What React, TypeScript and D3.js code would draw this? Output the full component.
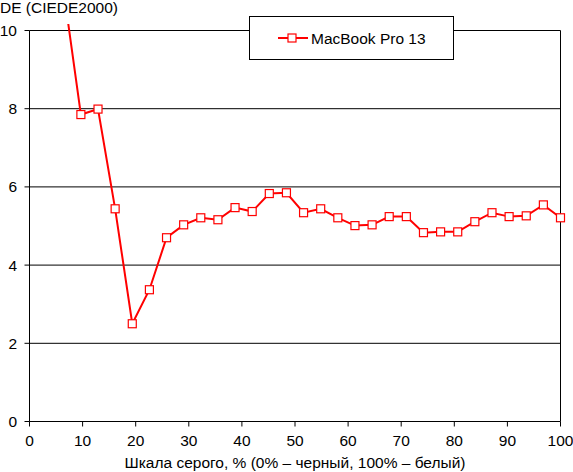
import React from "react";
import * as d3 from "d3";

const steps: number[] = [2, 3, 4, 5, 6, 7, 8, 9, 10, 11, 12, 13, 14, 15, 16, 17, 18, 19, 20, 21, 22, 23, 24, 25, 26, 27, 28, 29, 30, 31];
const deValues: number[] = [11.0, 7.85, 7.99, 5.44, 2.5, 3.37, 4.7, 5.03, 5.21, 5.16, 5.47, 5.37, 5.83, 5.85, 5.34, 5.44, 5.21, 5.01, 5.03, 5.24, 5.24, 4.83, 4.85, 4.85, 5.11, 5.34, 5.24, 5.26, 5.54, 5.21];
const xTicks: number[] = [0, 10, 20, 30, 40, 50, 60, 70, 80, 90, 100];
const yTicks: number[] = [0, 2, 4, 6, 8, 10];
const seriesName = "MacBook Pro 13";
const yTitle = "DE (CIEDE2000)";
const xTitle = "Шкала серого, % (0% – черный, 100% – белый)";

export default function App() {
  const W = 573, H = 472;
  const x = d3.scaleLinear().domain([0, 100]).range([29.5, 560.5]);
  const y = d3.scaleLinear().domain([0, 10]).range([421.5, 30.5]);
  const data = steps.map((s, i) => ({ g: (s / 31) * 100, v: deValues[i] }));
  const line = d3.line<{ g: number; v: number }>().x(d => x(d.g)).y(d => y(d.v));
  const font = "'Liberation Sans', Arial, sans-serif";
  const red = "#ff0000";
  const fs = 15.5;
  const visible = data.filter(d => d.v <= 10);
  return (
    <svg width={W} height={H} style={{ position: "absolute", left: 0, top: 0, background: "#fff" }} fontFamily={font}>
      <defs>
        <clipPath id="plotclip">
          <rect x={29} y={24} width={533} height={400} />
        </clipPath>
      </defs>
      <rect x={0} y={0} width={W} height={H} fill="#fff" />
      {yTicks.filter(t => t > 0).map(t => (
        <line key={"g" + t} x1={x(0)} x2={x(100)} y1={y(t)} y2={y(t)} stroke="#000" strokeWidth={1} />
      ))}
      <line x1={x(0)} x2={x(0)} y1={y(10)} y2={y(0)} stroke="#000" />
      <line x1={x(100)} x2={x(100)} y1={y(10)} y2={y(0)} stroke="#000" />
      <line x1={x(0)} x2={x(100)} y1={y(0)} y2={y(0)} stroke="#000" />
      {yTicks.map(t => (
        <g key={"yt" + t}>
          <line x1={x(0) - 5} x2={x(0)} y1={y(t)} y2={y(t)} stroke="#000" />
          <text x={17} y={y(t) + 5.5} textAnchor="end" fontSize={fs} fill="#000">{t}</text>
        </g>
      ))}
      {xTicks.map(t => (
        <g key={"xt" + t}>
          <line x1={x(t)} x2={x(t)} y1={y(0)} y2={y(0) + 5} stroke="#000" />
          <text x={x(t)} y={446} textAnchor="middle" fontSize={fs} fill="#000">{t}</text>
        </g>
      ))}
      <text x={0} y={13} fontSize={fs} fill="#000">{yTitle}</text>
      <text x={x(50)} y={468} textAnchor="middle" fontSize={fs} fill="#000">{xTitle}</text>
      <g clipPath="url(#plotclip)">
        <path d={line(data) || ""} fill="none" stroke={red} strokeWidth={2} />
      </g>
      {visible.map((d, i) => (
        <rect key={"m" + i} x={x(d.g) - 4} y={y(d.v) - 4} width={8} height={8} fill="#fff" stroke={red} strokeWidth={1.2} />
      ))}
      <g>
        <rect x={249.5} y={16.5} width={204} height={43} fill="#fff" stroke="#000" />
        <line x1={278} x2={308} y1={38} y2={38} stroke={red} strokeWidth={2} />
        <rect x={288} y={34} width={8} height={8} fill="#fff" stroke={red} strokeWidth={1.2} />
        <text x={311} y={43.5} fontSize={fs} fill="#000">{seriesName}</text>
      </g>
    </svg>
  );
}
